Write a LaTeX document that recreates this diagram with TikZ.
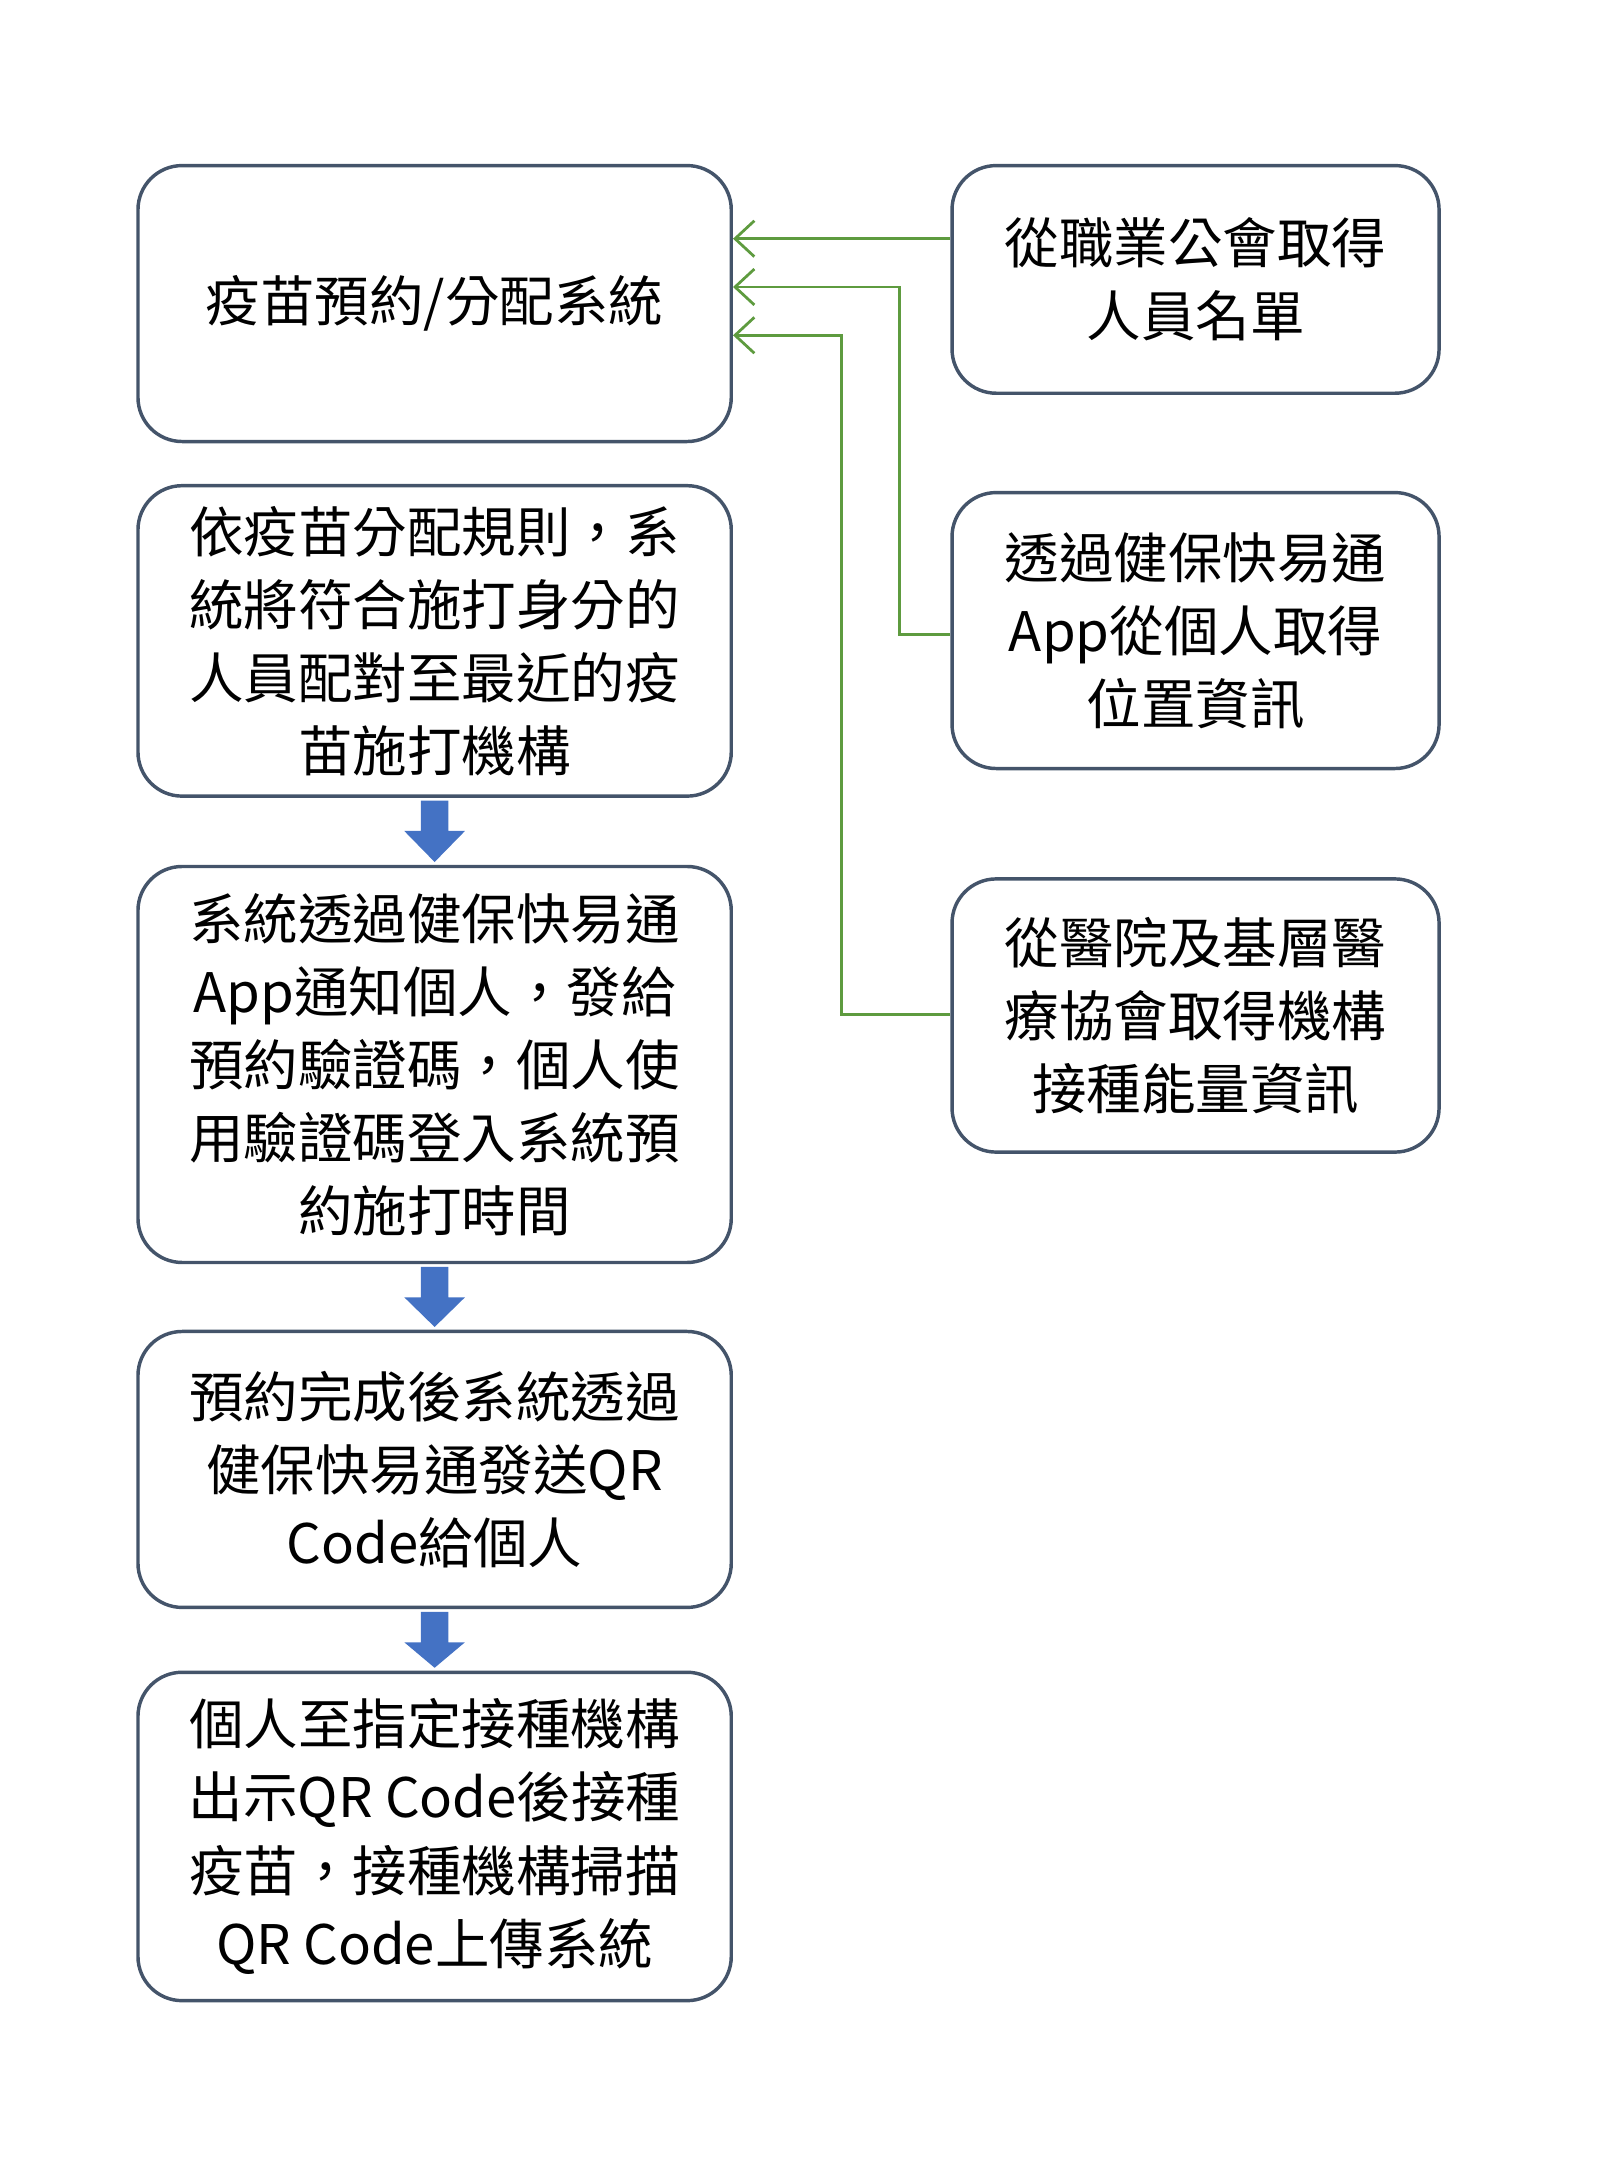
\documentclass[tikz,border=0pt]{standalone}
\usepackage{fontspec}
\setmainfont{Noto Sans CJK TC}
\usetikzlibrary{arrows.meta,calc}
\definecolor{bord}{HTML}{44546A}
\definecolor{grn}{HTML}{5E9B3F}
\definecolor{blu}{HTML}{4472C4}
\begin{document}
\begin{tikzpicture}[x=1pt,y=-1pt,
  box/.style={draw=bord,line width=2.5pt,rounded corners=32pt,align=center,font=\fontsize{39.5}{53}\selectfont,inner sep=0pt},
  gl/.style={draw=grn,line width=2pt,-{Straight Barb[length=14pt,width=26pt,line width=2pt]}},
  ba/.style={fill=blu}]
\useasboundingbox (0,0) rectangle (1160,1580);
\node[box,minimum width=430pt,minimum height=200pt] (b1) at (315,220) {疫苗預約/分配系統};
\node[box,minimum width=430pt,minimum height=225pt] (b2) at (315,464.5) {依疫苗分配規則，系\\統將符合施打身分的\\人員配對至最近的疫\\苗施打機構};
\node[box,minimum width=430pt,minimum height=287pt] (b3) at (315,771.5) {系統透過健保快易通\\App通知個人，發給\\預約驗證碼，個人使\\用驗證碼登入系統預\\約施打時間};
\node[box,minimum width=430pt,minimum height=200pt] (b4) at (315,1065) {預約完成後系統透過\\健保快易通發送QR\\Code給個人};
\node[box,minimum width=430pt,minimum height=238pt] (b5) at (315,1331) {個人至指定接種機構\\出示QR Code後接種\\疫苗，接種機構掃描\\QR Code上傳系統};
\node[box,minimum width=353pt,minimum height=165pt] (r1) at (866.5,202.5) {從職業公會取得\\人員名單};
\node[box,minimum width=353pt,minimum height=200pt] (r2) at (866.5,457) {透過健保快易通\\App從個人取得\\位置資訊};
\node[box,minimum width=353pt,minimum height=198pt] (r3) at (866.5,736) {從醫院及基層醫\\療協會取得機構\\接種能量資訊};
\draw[gl] (r1.west|-0,173) -- (b1.east|-0,173);
\draw[gl] (r2.west|-0,460) -- (652,460) -- (652,208) -- (b1.east|-0,208);
\draw[gl] (r3.west|-0,735) -- (610,735) -- (610,243) -- (b1.east|-0,243);
\foreach \a/\b in {b2/b3,b3/b4,b4/b5}{
  \fill[ba] ($(\a.south)+(-10,2)$) -- ($(\a.south)+(10,2)$) -- ($(\a.south)+(10,24)$) -- ($(\a.south)+(22,24)$) -- ($(\b.north)+(0,-2)$) -- ($(\a.south)+(-22,24)$) -- ($(\a.south)+(-10,24)$) -- cycle;
}
\end{tikzpicture}
\end{document}
